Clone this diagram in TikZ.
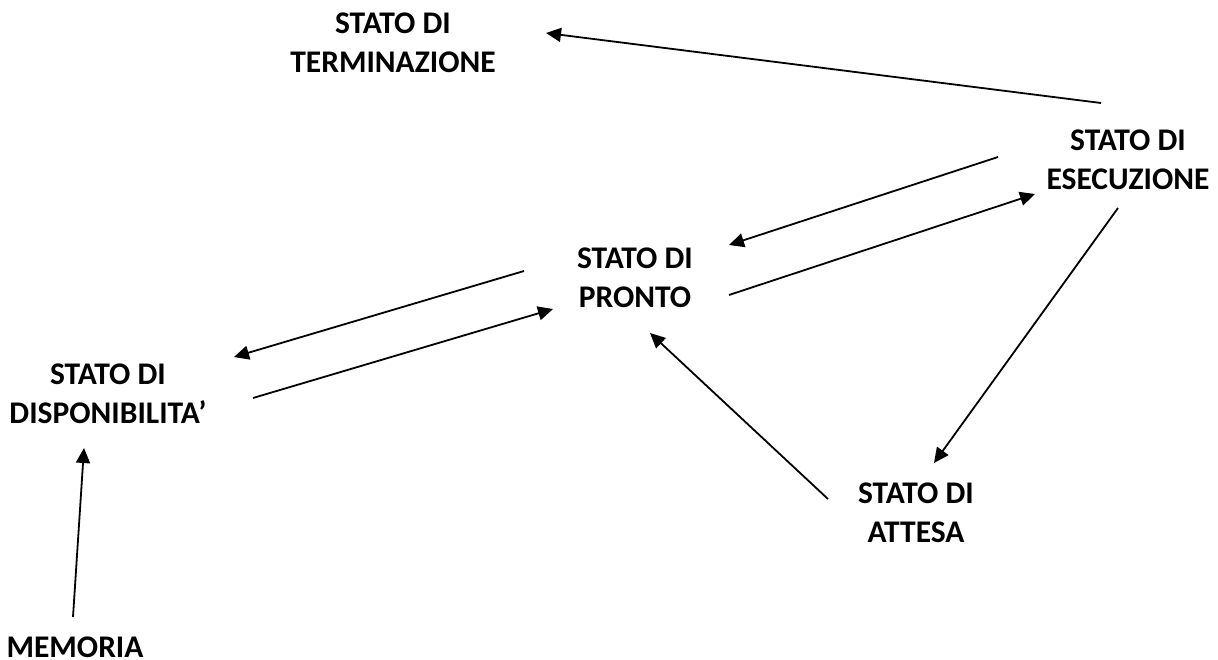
\documentclass[tikz,border=0pt]{standalone}
\usepackage{fontspec}
\setmainfont{Carlito}
\usetikzlibrary{arrows.meta}
\begin{document}
\begin{tikzpicture}[x=1pt,y=-1pt,
  state/.style={inner sep=0pt,align=center,font=\fontsize{31.5}{39}\selectfont\bfseries},
  flow/.style={line width=1.8pt,-{Triangle[length=15pt,width=14pt]}}]
\useasboundingbox (0,0) rectangle (1218,659);
% process states
\node[state] (term) at (393,43) {STATO DI\\TERMINAZIONE};
\node[state] (esec) at (1128,160) {STATO DI\\ESECUZIONE};
\node[state] (pronto) at (635,278) {STATO DI\\PRONTO};
\node[state] (disp) at (108,393.5) {STATO DI\\DISPONIBILITA’};
\node[state] (attesa) at (916,512.5) {STATO DI\\ATTESA};
\node[state] (mem) at (75,647) {MEMORIA};
% arrow end points
\coordinate (e1) at (1101,103); \coordinate (t1) at (546,33);
\coordinate (e2) at (998,157);  \coordinate (p2) at (729,245);
\coordinate (p3) at (729,295);  \coordinate (e3) at (1035,194);
\coordinate (p4) at (524,271);  \coordinate (d4) at (234,357);
\coordinate (d5) at (253,398);  \coordinate (p5) at (553,309);
\coordinate (e6) at (1118,208); \coordinate (a6) at (934,463);
\coordinate (a7) at (828,499);  \coordinate (p7) at (650,333);
\coordinate (m8) at (73,617);   \coordinate (d8) at (84,448);
% transitions
\draw[flow] (e1) -- (t1);
\draw[flow] (e2) -- (p2);
\draw[flow] (p3) -- (e3);
\draw[flow] (p4) -- (d4);
\draw[flow] (d5) -- (p5);
\draw[flow] (e6) -- (a6);
\draw[flow] (a7) -- (p7);
\draw[flow] (m8) -- (d8);
\end{tikzpicture}
\end{document}
